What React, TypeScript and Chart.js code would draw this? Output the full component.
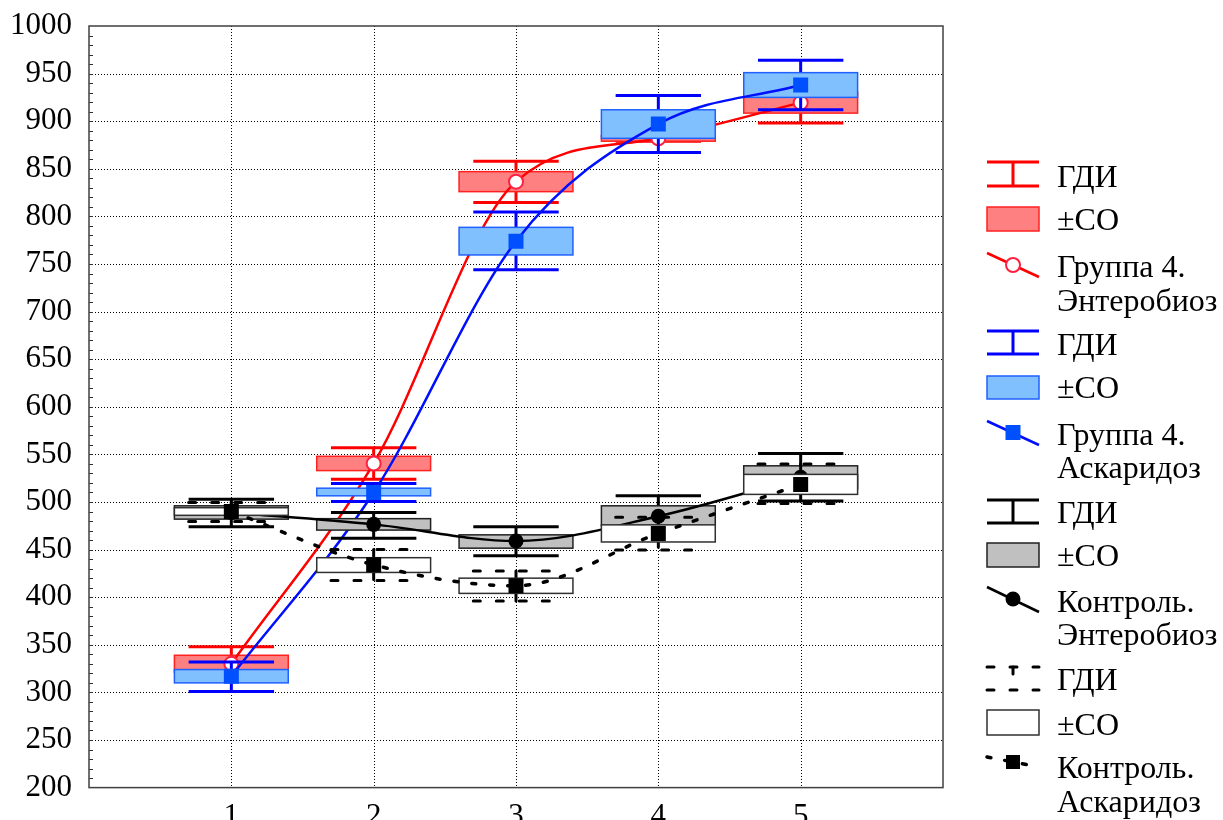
import React, { useEffect, useRef } from "react";
import { Chart, registerables } from "chart.js";

Chart.register(...registerables);

// Measurement points on the x axis
const positions = [1, 2, 3, 4, 5];
const xTickValues = [1, 2, 3, 4, 5];
const yTickValues = [200, 250, 300, 350, 400, 450, 500, 550, 600, 650, 700, 750, 800, 850, 900, 950, 1000];

// Группа 4. Энтеробиоз
const g4EnteroMean = [330, 540.5, 836.5, 882, 919.5];
const g4EnteroSdLow = [321, 533, 826, 879, 908.5];
const g4EnteroSdHigh = [339, 548, 847, 885, 930.5];
const g4EnteroCiLow = [312, 524, 814.5, 879, 898];
const g4EnteroCiHigh = [348, 557, 858, 885, 941];

// Группа 4. Аскаридоз
const g4AscarMean = [317, 510, 774, 897, 938];
const g4AscarSdLow = [310, 506.5, 759.5, 882, 925];
const g4AscarSdHigh = [324, 514.5, 788.5, 912, 951];
const g4AscarCiLow = [301, 500.5, 744, 867, 912];
const g4AscarCiHigh = [332, 519.5, 804.5, 927, 964];

// Контроль. Энтеробиоз
const ctrlEnteroMean = [489, 476.5, 459, 485, 526];
const ctrlEnteroSdLow = [482, 470.5, 451.5, 475, 514];
const ctrlEnteroSdHigh = [496, 482.5, 465.5, 496, 538];
const ctrlEnteroCiLow = [474, 462, 443.5, 464, 501];
const ctrlEnteroCiHigh = [503, 489, 474, 506.5, 551];

// Контроль. Аскаридоз
const ctrlAscarMean = [490, 434, 412, 467, 518.5];
const ctrlAscarSdLow = [486, 426, 404, 458, 508];
const ctrlAscarSdHigh = [494, 441.5, 420, 476, 529];
const ctrlAscarCiLow = [479.5, 417.5, 396, 449.5, 498.5];
const ctrlAscarCiHigh = [499.5, 450, 427.5, 484, 540];

const BOX_HALF = 0.4;
const CAP_HALF = 0.3;
const SERIF = '"Liberation Serif", "Times New Roman", serif';

type SeriesStyle = {
  mean: number[];
  sdLow: number[];
  sdHigh: number[];
  ciLow: number[];
  ciHigh: number[];
  whisker: string;
  whiskerDash: number[];
  boxFill: string;
  boxStroke: string;
  boxStrokeWidth: number;
};

const seriesList: SeriesStyle[] = [
  {
    mean: g4EnteroMean, sdLow: g4EnteroSdLow, sdHigh: g4EnteroSdHigh, ciLow: g4EnteroCiLow, ciHigh: g4EnteroCiHigh,
    whisker: "#ff0000", whiskerDash: [], boxFill: "#ff8080", boxStroke: "#ff2020", boxStrokeWidth: 1.5,
  },
  {
    mean: g4AscarMean, sdLow: g4AscarSdLow, sdHigh: g4AscarSdHigh, ciLow: g4AscarCiLow, ciHigh: g4AscarCiHigh,
    whisker: "#0000ff", whiskerDash: [], boxFill: "#80c0ff", boxStroke: "#2060ff", boxStrokeWidth: 1.5,
  },
  {
    mean: ctrlEnteroMean, sdLow: ctrlEnteroSdLow, sdHigh: ctrlEnteroSdHigh, ciLow: ctrlEnteroCiLow, ciHigh: ctrlEnteroCiHigh,
    whisker: "#000000", whiskerDash: [], boxFill: "#c0c0c0", boxStroke: "#202020", boxStrokeWidth: 1.5,
  },
  {
    mean: ctrlAscarMean, sdLow: ctrlAscarSdLow, sdHigh: ctrlAscarSdHigh, ciLow: ctrlAscarCiLow, ciHigh: ctrlAscarCiHigh,
    whisker: "#000000", whiskerDash: [7, 16], boxFill: "#ffffff", boxStroke: "#303030", boxStrokeWidth: 1.5,
  },
];

function seg(ctx: CanvasRenderingContext2D, x1: number, y1: number, x2: number, y2: number) {
  ctx.beginPath();
  ctx.moveTo(x1, y1);
  ctx.lineTo(x2, y2);
  ctx.stroke();
}

// Dotted grid and minor ticks under everything else
const gridPlugin = {
  id: "statGrid",
  beforeDatasetsDraw(chart: any) {
    const { ctx, chartArea: a, scales } = chart;
    const x = scales.x;
    const y = scales.y;
    ctx.save();
    ctx.strokeStyle = "#000";
    ctx.lineWidth = 1;
    ctx.setLineDash([1, 2]);
    for (const v of yTickValues) {
      if (v === 200 || v === 1000) continue;
      const py = Math.round(y.getPixelForValue(v)) + 0.5;
      seg(ctx, a.left, py, a.right, py);
    }
    for (const v of xTickValues) {
      const px = Math.round(x.getPixelForValue(v)) + 0.5;
      seg(ctx, px, a.top, px, a.bottom);
    }
    ctx.setLineDash([]);
    ctx.strokeStyle = "#303030";
    for (let v = 210; v < 1000; v += 10) {
      const py = Math.round(y.getPixelForValue(v)) + 0.5;
      seg(ctx, a.left, py, a.left + 4, py);
    }
    ctx.restore();
  },
};

// Whiskers (ГДИ) and boxes (±СО) of a series, drawn just before its mean line
const boxPlugin = {
  id: "statBoxes",
  beforeDatasetDraw(chart: any, args: any) {
    const s = seriesList[args.index];
    if (!s) return;
    const { ctx, chartArea: a, scales } = chart;
    const x = scales.x;
    const y = scales.y;
    ctx.save();
    ctx.beginPath();
    ctx.rect(a.left, a.top, a.right - a.left, a.bottom - a.top);
    ctx.clip();
    for (let i = 0; i < positions.length; i++) {
      const p = positions[i];
      const px = x.getPixelForValue(p);
      const cl = x.getPixelForValue(p - CAP_HALF);
      const cr = x.getPixelForValue(p + CAP_HALF);
      const bl = x.getPixelForValue(p - BOX_HALF);
      const br = x.getPixelForValue(p + BOX_HALF);
      const yHi = y.getPixelForValue(s.ciHigh[i]);
      const yLo = y.getPixelForValue(s.ciLow[i]);
      ctx.strokeStyle = s.whisker;
      ctx.lineWidth = 3;
      ctx.lineCap = s.whiskerDash.length ? "round" : "butt";
      ctx.setLineDash(s.whiskerDash);
      seg(ctx, px, yHi, px, yLo);
      seg(ctx, cl, yHi, cr, yHi);
      seg(ctx, cl, yLo, cr, yLo);
      ctx.setLineDash([]);
      const top = y.getPixelForValue(s.sdHigh[i]);
      const bot = y.getPixelForValue(s.sdLow[i]);
      ctx.fillStyle = s.boxFill;
      ctx.fillRect(bl, top, br - bl, bot - top);
      ctx.strokeStyle = s.boxStroke;
      ctx.lineWidth = s.boxStrokeWidth;
      ctx.strokeRect(bl, top, br - bl, bot - top);
    }
    ctx.restore();
  },
};

// Plot frame and the legend column on the right
const framePlugin = {
  id: "statFrame",
  afterDraw(chart: any) {
    const { ctx, chartArea: a } = chart;
    ctx.save();
    ctx.strokeStyle = "#404040";
    ctx.lineWidth = 1.5;
    ctx.strokeRect(a.left, a.top, a.right - a.left, a.bottom - a.top);

    const L = 987;
    const R = 1039;
    const C = 1013;
    const TX = 1057;
    ctx.font = `32px ${SERIF}`;
    ctx.fillStyle = "#000";
    ctx.textBaseline = "alphabetic";
    ctx.textAlign = "left";

    const whiskerIcon = (yt: number, yb: number, color: string, dash: number[]) => {
      ctx.strokeStyle = color;
      ctx.lineWidth = 3;
      ctx.setLineDash(dash);
      ctx.lineCap = dash.length ? "round" : "butt";
      seg(ctx, L, yt, R, yt);
      seg(ctx, L, yb, R, yb);
      seg(ctx, C, yt, C, yb);
      ctx.setLineDash([]);
      ctx.lineCap = "butt";
    };
    const boxIcon = (yt: number, yb: number, fill: string, stroke: string) => {
      ctx.fillStyle = fill;
      ctx.fillRect(L, yt, R - L, yb - yt);
      ctx.strokeStyle = stroke;
      ctx.lineWidth = 1.5;
      ctx.strokeRect(L, yt, R - L, yb - yt);
      ctx.fillStyle = "#000";
    };
    const text = (t: string, by: number) => {
      ctx.fillStyle = "#000";
      ctx.fillText(t, TX, by);
    };

    // Группа 4. Энтеробиоз
    whiskerIcon(162, 186, "#ff0000", []);
    text("ГДИ", 187);
    boxIcon(207, 231, "#ff8080", "#ff2020");
    text("±СО", 230);
    ctx.strokeStyle = "#ff0000";
    ctx.lineWidth = 2.5;
    seg(ctx, L, 253, R, 277);
    ctx.beginPath();
    ctx.arc(C, 265, 7, 0, Math.PI * 2);
    ctx.fillStyle = "#fff";
    ctx.fill();
    ctx.lineWidth = 2;
    ctx.strokeStyle = "#ff2040";
    ctx.stroke();
    text("Группа 4.", 277);
    text("Энтеробиоз", 311);

    // Группа 4. Аскаридоз
    whiskerIcon(331, 354, "#0000ff", []);
    text("ГДИ", 355);
    boxIcon(376, 399, "#80c0ff", "#2060ff");
    text("±СО", 398);
    ctx.strokeStyle = "#0010ff";
    ctx.lineWidth = 2.5;
    seg(ctx, L, 421, R, 445);
    ctx.fillStyle = "#0050ff";
    ctx.fillRect(C - 7.5, 425, 15, 15);
    text("Группа 4.", 445);
    text("Аскаридоз", 478);

    // Контроль. Энтеробиоз
    whiskerIcon(500, 523, "#000000", []);
    text("ГДИ", 523);
    boxIcon(543, 567, "#c0c0c0", "#202020");
    text("±СО", 566);
    ctx.strokeStyle = "#000";
    ctx.lineWidth = 2.5;
    seg(ctx, L, 587, R, 612);
    ctx.beginPath();
    ctx.arc(C, 599, 7.5, 0, Math.PI * 2);
    ctx.fillStyle = "#000";
    ctx.fill();
    text("Контроль.", 612);
    text("Энтеробиоз", 645);

    // Контроль. Аскаридоз
    whiskerIcon(667, 690, "#000000", [7, 16]);
    text("ГДИ", 690);
    boxIcon(710, 735, "#ffffff", "#303030");
    text("±СО", 735);
    ctx.strokeStyle = "#000";
    ctx.lineWidth = 3.5;
    ctx.lineCap = "round";
    ctx.setLineDash([4, 14]);
    seg(ctx, L, 757, R, 767);
    ctx.setLineDash([]);
    ctx.lineCap = "butt";
    ctx.fillStyle = "#000";
    ctx.fillRect(C - 7, 755, 14, 14);
    text("Контроль.", 778);
    text("Аскаридоз", 812);

    ctx.restore();
  },
};

const toPoints = (vals: number[]) => positions.map((p, i) => ({ x: p, y: vals[i] }));

export default function App() {
  const canvasRef = useRef<HTMLCanvasElement | null>(null);

  useEffect(() => {
    const canvas = canvasRef.current;
    if (!canvas) return;
    const chart = new Chart(canvas, {
      type: "line",
      data: {
        datasets: [
          {
            label: "Группа 4. Энтеробиоз",
            data: toPoints(g4EnteroMean),
            borderColor: "#ff0000",
            borderWidth: 2.5,
            cubicInterpolationMode: "monotone",
            pointStyle: "circle",
            pointRadius: 7,
            pointBorderWidth: 2,
            pointBorderColor: "#ff2040",
            pointBackgroundColor: "#ffffff",
            order: 4,
          },
          {
            label: "Группа 4. Аскаридоз",
            data: toPoints(g4AscarMean),
            borderColor: "#0010ff",
            borderWidth: 2.5,
            cubicInterpolationMode: "monotone",
            pointStyle: "rect",
            pointRadius: 10.6,
            pointBorderWidth: 0,
            pointBackgroundColor: "#0050ff",
            pointBorderColor: "#0050ff",
            order: 3,
          },
          {
            label: "Контроль. Энтеробиоз",
            data: toPoints(ctrlEnteroMean),
            borderColor: "#000000",
            borderWidth: 2.5,
            cubicInterpolationMode: "monotone",
            pointStyle: "circle",
            pointRadius: 7.5,
            pointBorderWidth: 0,
            pointBackgroundColor: "#000000",
            pointBorderColor: "#000000",
            order: 2,
          },
          {
            label: "Контроль. Аскаридоз",
            data: toPoints(ctrlAscarMean),
            borderColor: "#000000",
            borderWidth: 3.5,
            borderDash: [4, 14],
            borderCapStyle: "round",
            cubicInterpolationMode: "monotone",
            pointStyle: "rect",
            pointRadius: 10.6,
            pointBorderWidth: 0,
            pointBackgroundColor: "#000000",
            pointBorderColor: "#000000",
            order: 1,
          },
        ],
      },
      options: {
        animation: false,
        responsive: false,
        maintainAspectRatio: false,
        layout: { padding: { left: 0, right: 280, top: 26, bottom: 0 } },
        plugins: { legend: { display: false }, tooltip: { enabled: false } },
        scales: {
          x: {
            type: "linear",
            min: 0,
            max: 6,
            grid: { display: false, drawTicks: false },
            border: { display: false },
            afterFit: (scale: any) => {
              scale.height = 840 - 787.6;
            },
            ticks: {
              stepSize: 1,
              padding: 11,
              color: "#000",
              font: { family: SERIF, size: 31 },
              callback: (v: any) => (xTickValues.includes(Number(v)) ? String(v) : ""),
            },
          },
          y: {
            type: "linear",
            min: 200,
            max: 1000,
            grid: { display: false, drawTicks: false },
            border: { display: false },
            afterFit: (scale: any) => {
              scale.width = 89;
              scale.paddingTop = 0;
              scale.paddingBottom = 0;
            },
            ticks: {
              stepSize: 50,
              padding: 17,
              color: "#000",
              font: { family: SERIF, size: 31 },
              callback: (v: any) => String(v),
            },
          },
        },
      },
      plugins: [gridPlugin, boxPlugin, framePlugin],
    });
    return () => chart.destroy();
  }, []);

  return (
    <div
      style={{
        position: "fixed",
        left: 0,
        top: 0,
        width: 1223,
        height: 820,
        overflow: "hidden",
        background: "#fff",
      }}
    >
      <canvas ref={canvasRef} width={1223} height={840} style={{ display: "block", width: 1223, height: 840 }} />
    </div>
  );
}
